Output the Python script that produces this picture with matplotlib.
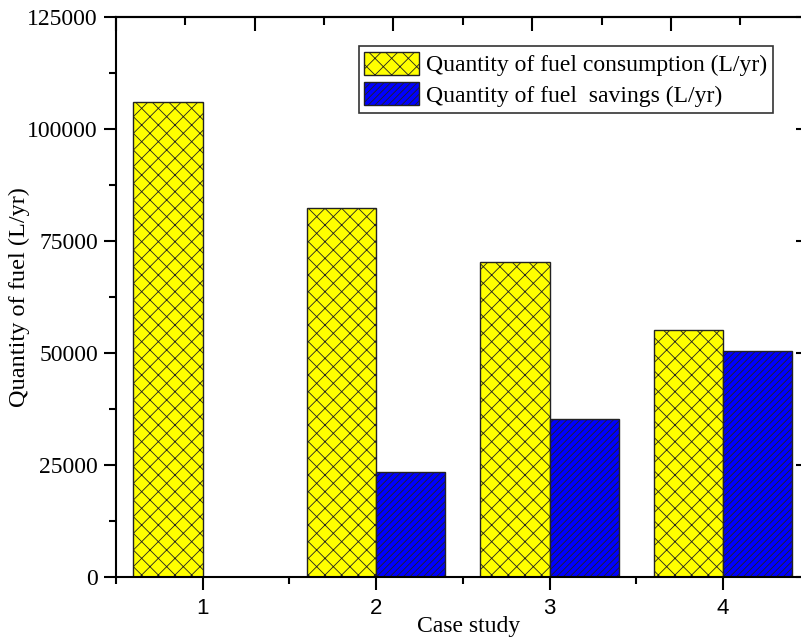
import numpy as np
import matplotlib
matplotlib.use('Agg')
import matplotlib.pyplot as plt
from matplotlib.patches import Patch

# Data
cases = [1, 2, 3, 4]
fuel_consumption = [106000, 82400, 70300, 55100]
fuel_savings = [0, 23400, 35300, 50400]
labels = ['Quantity of fuel consumption (L/yr)', 'Quantity of fuel  savings (L/yr)']

plt.rcParams['hatch.linewidth'] = 0.6
plt.rcParams['hatch.color'] = 'black'
serif = 'Liberation Serif'
sans = 'Liberation Sans'

fig = plt.figure(figsize=(8.01, 6.41), dpi=100)
ax = fig.add_axes([0.1448, 0.0998, 0.866, 0.8737])

x = np.array(cases)
width = 0.4
ax.bar(x - width / 2, fuel_consumption, width, color='#FFFF00', edgecolor='#222222',
       linewidth=1.0, hatch='xx')
ax.bar(x + width / 2, fuel_savings, width, color='#0000FF', edgecolor='#222222',
       linewidth=1.0, hatch='/////')

ax.set_xlim(0.5, 4.5)
ax.set_ylim(0, 125000)
ax.set_xticks(cases)
ax.set_xticks(np.arange(0.5, 4.6, 1.0), minor=True)
ax.set_yticks(np.arange(0, 125001, 25000))
ax.set_yticks(np.arange(12500, 125000, 25000), minor=True)

for s in ax.spines.values():
    s.set_linewidth(1.5)

ax.tick_params(which='major', direction='out', length=9, width=1.5)
ax.tick_params(which='minor', direction='out', length=5, width=1.5)
for t in ax.get_yticklabels():
    t.set_fontfamily(serif)
    t.set_fontsize(17)
for t in ax.get_xticklabels():
    t.set_fontfamily(sans)
    t.set_fontsize(16)
ax.tick_params(axis='x', pad=6)
ax.tick_params(axis='y', pad=4)

# top axis with its own tick spacing, ticks inward
top = ax.secondary_xaxis('top')
top.set_xticks(np.arange(0.5, 4.6, 0.8))
top.set_xticks(np.arange(0.9, 4.6, 0.8), minor=True)
top.tick_params(which='major', direction='in', length=10, width=1.5, labeltop=False)
top.tick_params(which='minor', direction='in', length=6, width=1.5)
top.spines['top'].set_linewidth(1.5)

right = ax.secondary_yaxis('right')
right.set_yticks(np.arange(0, 125001, 25000))
right.tick_params(which='major', direction='in', length=10, width=1.5, labelright=False)
right.tick_params(which='minor', length=0)

ax.set_xlabel('Case study', fontfamily=serif, fontsize=17)
ax.xaxis.set_label_coords(0.508, -0.07)
ax.set_ylabel('Quantity of fuel (L/yr)', fontfamily=serif, fontsize=17.5)
ax.yaxis.set_label_coords(-0.124, 0.5)

handles = [Patch(facecolor='#FFFF00', edgecolor='#222222', hatch='xx'),
           Patch(facecolor='#0000FF', edgecolor='#222222', hatch='/////')]
leg = ax.legend(handles, labels, loc='upper right', bbox_to_anchor=(0.947, 0.948),
                borderaxespad=0, prop={'family': serif, 'size': 17}, fancybox=False,
                edgecolor='#333333', framealpha=1, handlelength=2.3, handleheight=1.1,
                handletextpad=0.3, labelspacing=0.25, borderpad=0.25)
leg.get_frame().set_linewidth(1.2)

fig.savefig('out.png', dpi=100)
